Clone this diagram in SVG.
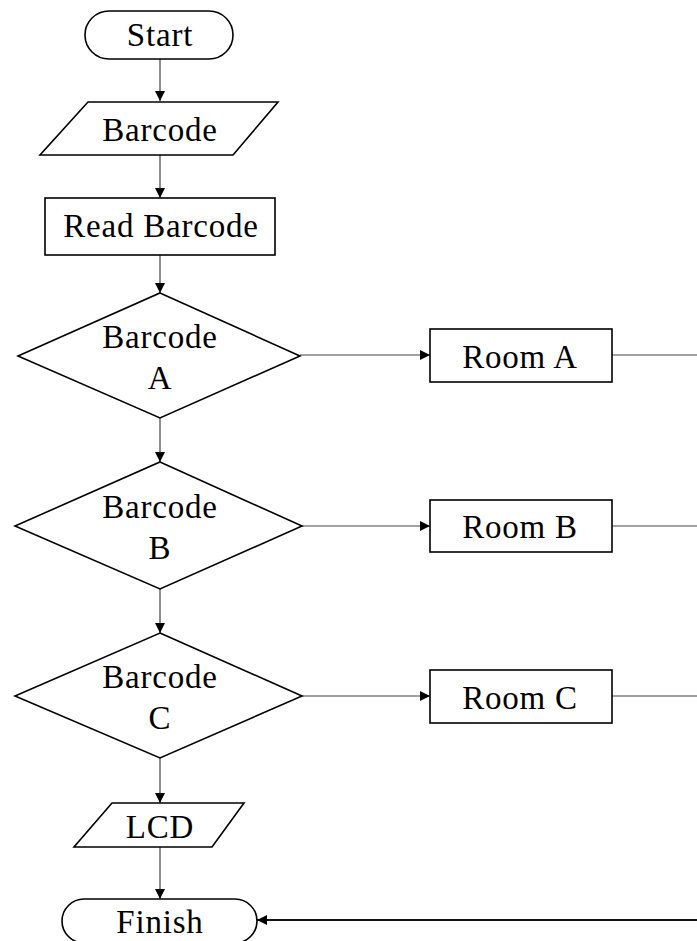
<svg xmlns="http://www.w3.org/2000/svg" width="697" height="941" viewBox="0 0 697 941">
<defs>
<marker id="arr" viewBox="0 0 10 10" refX="10" refY="5" markerWidth="10" markerHeight="10" markerUnits="userSpaceOnUse" orient="auto">
<path d="M0,0 L10,5 L0,10 Z" fill="#000"/>
</marker>
<style>
.s{fill:#fff;stroke:#000;stroke-width:1.6}
.c{fill:none;stroke:#444;stroke-width:1.2}
.t{font-size:33px;fill:#000;text-anchor:middle;letter-spacing:0.8px}
</style>
</defs>
<rect width="697" height="941" fill="#fff"/>
<g id="connectors">
<line class="c" x1="160" y1="59" x2="160" y2="101" marker-end="url(#arr)"/>
<line class="c" x1="160" y1="155" x2="160" y2="198" marker-end="url(#arr)"/>
<line class="c" x1="160" y1="255" x2="160" y2="293" marker-end="url(#arr)"/>
<line class="c" x1="160" y1="418" x2="160" y2="462" marker-end="url(#arr)"/>
<line class="c" x1="160" y1="589" x2="160" y2="633" marker-end="url(#arr)"/>
<line class="c" x1="160" y1="758" x2="160" y2="803" marker-end="url(#arr)"/>
<line class="c" x1="160" y1="847" x2="160" y2="899" marker-end="url(#arr)"/>
<line class="c" x1="300" y1="355" x2="430" y2="355" marker-end="url(#arr)"/>
<line class="c" x1="302" y1="526" x2="430" y2="526" marker-end="url(#arr)"/>
<line class="c" x1="302" y1="696" x2="430" y2="696" marker-end="url(#arr)"/>
<line class="c" x1="612" y1="355" x2="697" y2="355"/>
<line class="c" x1="612" y1="526" x2="697" y2="526"/>
<line class="c" x1="612" y1="696" x2="697" y2="696"/>
<line x1="697" y1="920" x2="257" y2="920" stroke="#111" stroke-width="2" marker-end="url(#arr)"/>
</g>
<g font-family="'Liberation Serif', 'Times New Roman', 'DejaVu Serif', serif">
<g id="start">
<rect class="s" x="85" y="11" width="148" height="48" rx="24"/>
<text class="t" x="160" y="46">Start</text>
</g>
<g id="barcode-input">
<polygon class="s" points="88,102 278,102 233,155 40,155"/>
<text class="t" x="160" y="141">Barcode</text>
</g>
<g id="read-barcode">
<rect class="s" x="45" y="198" width="230" height="57"/>
<text class="t" x="161" y="237">Read Barcode</text>
</g>
<g id="decision-a">
<polygon class="s" points="160,293 300,356 160,418 18,356"/>
<text class="t" x="160" y="348">Barcode</text>
<text class="t" x="160" y="389">A</text>
</g>
<g id="decision-b">
<polygon class="s" points="160,462 302,526 160,589 15,526"/>
<text class="t" x="160" y="518">Barcode</text>
<text class="t" x="160" y="559">B</text>
</g>
<g id="decision-c">
<polygon class="s" points="160,633 302,696 160,758 15,696"/>
<text class="t" x="160" y="688">Barcode</text>
<text class="t" x="160" y="729">C</text>
</g>
<g id="room-a">
<rect class="s" x="430" y="329" width="182" height="53"/>
<text class="t" x="520" y="368">Room A</text>
</g>
<g id="room-b">
<rect class="s" x="430" y="500" width="182" height="52"/>
<text class="t" x="520" y="538">Room B</text>
</g>
<g id="room-c">
<rect class="s" x="430" y="670" width="182" height="53"/>
<text class="t" x="520" y="709">Room C</text>
</g>
<g id="lcd">
<polygon class="s" points="112,803 244,803 212,847 74,847"/>
<text class="t" x="160" y="838">LCD</text>
</g>
<g id="finish">
<rect class="s" x="62" y="899" width="195" height="44" rx="22"/>
<text class="t" x="160" y="933">Finish</text>
</g>
</g>
</svg>
